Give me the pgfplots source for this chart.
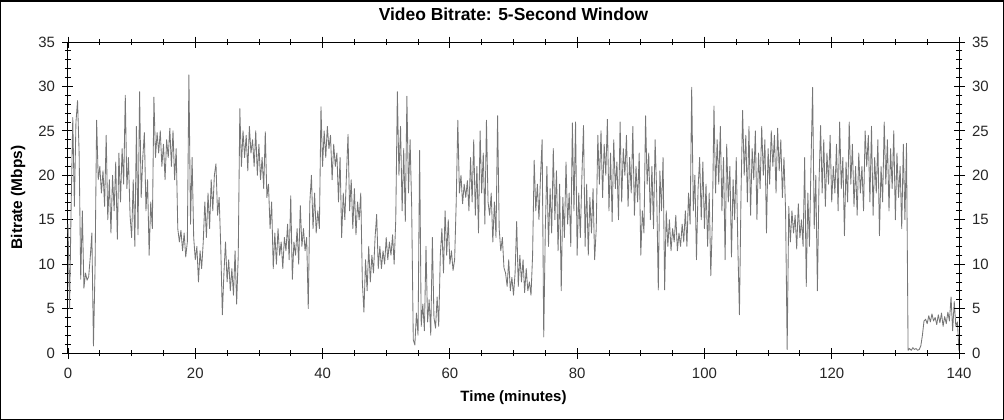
\documentclass[border=0pt]{standalone}
\usepackage{pgfplots}
\usepackage{pgfplotstable}
\pgfplotsset{compat=1.18}
\usepackage{fontspec}
\setmainfont{Liberation Sans}
\definecolor{linegray}{RGB}{118,118,118}
\pgfplotstableread[row sep=\\]{
t v\\
0 14.5\\ 0.25 5.0\\ 0.5 16.8\\ 0.75 26.5\\ 1 16.5\\ 1.25 26.0\\ 1.5 28.4\\ 1.75 22.5\\
2 8.3\\ 2.25 16.0\\ 2.5 7.3\\ 2.75 9.0\\ 3 8.2\\ 3.25 8.6\\ 3.5 10.8\\ 3.75 13.5\\
4 0.8\\ 4.25 9.5\\ 4.5 26.2\\ 4.75 19.5\\ 5 21.0\\ 5.25 18.0\\ 5.5 20.5\\ 5.75 16.5\\
6 24.5\\ 6.25 15.0\\ 6.5 19.5\\ 6.75 13.5\\ 7 20.0\\ 7.25 16.0\\ 7.5 21.5\\ 7.75 12.8\\
8 22.5\\ 8.25 17.0\\ 8.5 23.0\\ 8.75 19.0\\ 9 29.0\\ 9.25 18.5\\ 9.5 22.0\\ 9.75 15.5\\
10 13.0\\ 10.25 19.5\\ 10.5 12.0\\ 10.75 25.5\\ 11 13.3\\ 11.25 29.4\\ 11.5 17.5\\ 11.75 22.0\\
12 24.8\\ 12.25 16.0\\ 12.5 19.5\\ 12.75 11.0\\ 13 17.0\\ 13.25 14.0\\ 13.5 28.8\\ 13.75 22.0\\
14 24.8\\ 14.25 22.5\\ 14.5 25.0\\ 14.75 21.0\\ 15 23.5\\ 15.25 19.5\\ 15.5 24.0\\ 15.75 22.0\\
16 25.3\\ 16.25 21.0\\ 16.5 25.0\\ 16.75 19.5\\ 17 23.0\\ 17.25 14.0\\ 17.5 12.5\\ 17.75 13.8\\
18 11.5\\ 18.25 13.5\\ 18.5 10.8\\ 18.75 12.5\\ 19 31.3\\ 19.25 14.5\\ 19.5 22.0\\ 19.75 13.0\\
20 10.5\\ 20.25 12.0\\ 20.5 8.0\\ 20.75 11.5\\ 21 9.5\\ 21.25 12.5\\ 21.5 17.0\\ 21.75 13.0\\
22 18.0\\ 22.25 14.0\\ 22.5 19.5\\ 22.75 16.0\\ 23 20.0\\ 23.25 21.3\\ 23.5 15.5\\ 23.75 17.5\\
24 12.0\\ 24.25 4.3\\ 24.5 9.0\\ 24.75 12.5\\ 25 8.0\\ 25.25 10.5\\ 25.5 7.0\\ 25.75 9.5\\
26 6.5\\ 26.25 11.5\\ 26.5 5.5\\ 26.75 11.0\\ 27 27.5\\ 27.25 21.0\\ 27.5 25.0\\ 27.75 22.0\\
28 24.5\\ 28.25 20.5\\ 28.5 25.5\\ 28.75 22.5\\ 29 24.0\\ 29.25 21.0\\ 29.5 25.0\\ 29.75 20.0\\
30 23.5\\ 30.25 19.5\\ 30.5 22.0\\ 30.75 18.5\\ 31 24.9\\ 31.25 17.5\\ 31.5 19.0\\ 31.75 14.0\\
32 17.0\\ 32.25 9.5\\ 32.5 13.5\\ 32.75 10.0\\ 33 14.0\\ 33.25 11.0\\ 33.5 12.5\\ 33.75 9.5\\
34 13.0\\ 34.25 11.5\\ 34.5 14.5\\ 34.75 10.5\\ 35 17.7\\ 35.25 8.3\\ 35.5 12.5\\ 35.75 11.0\\
36 14.0\\ 36.25 10.0\\ 36.5 16.6\\ 36.75 12.0\\ 37 14.0\\ 37.25 11.5\\ 37.5 13.0\\ 37.75 5.0\\
38 17.0\\ 38.25 20.0\\ 38.5 14.0\\ 38.75 18.0\\ 39 13.5\\ 39.25 16.0\\ 39.5 14.0\\ 39.75 27.7\\
40 21.0\\ 40.25 25.0\\ 40.5 22.0\\ 40.75 25.5\\ 41 23.0\\ 41.25 24.5\\ 41.5 19.5\\ 41.75 23.5\\
42 21.0\\ 42.25 22.5\\ 42.5 17.0\\ 42.75 22.0\\ 43 13.0\\ 43.25 18.0\\ 43.5 15.0\\ 43.75 20.0\\
44 24.6\\ 44.25 16.0\\ 44.5 19.5\\ 44.75 14.0\\ 45 18.5\\ 45.25 13.3\\ 45.5 17.0\\ 45.75 15.0\\
46 18.0\\ 46.25 8.0\\ 46.5 4.6\\ 46.75 10.5\\ 47 7.0\\ 47.25 12.0\\ 47.5 8.0\\ 47.75 11.0\\
48 9.0\\ 48.25 13.0\\ 48.5 15.6\\ 48.75 9.5\\ 49 12.0\\ 49.25 9.5\\ 49.5 11.5\\ 49.75 10.0\\
50 13.0\\ 50.25 10.5\\ 50.5 12.5\\ 50.75 11.0\\ 51 13.3\\ 51.25 10.0\\ 51.5 15.0\\ 51.75 29.4\\
52 20.0\\ 52.25 25.5\\ 52.5 16.0\\ 52.75 23.0\\ 53 14.8\\ 53.25 28.9\\ 53.5 18.0\\ 53.75 24.0\\
54 16.5\\ 54.25 1.5\\ 54.5 0.9\\ 54.75 4.5\\ 55 2.0\\ 55.25 22.8\\ 55.5 3.0\\ 55.75 5.5\\
56 2.5\\ 56.25 12.0\\ 56.5 3.5\\ 56.75 6.0\\ 57 2.0\\ 57.25 13.0\\ 57.5 4.0\\ 57.75 2.8\\
58 6.3\\ 58.25 3.0\\ 58.5 11.0\\ 58.75 14.0\\ 59 9.0\\ 59.25 16.0\\ 59.5 11.0\\ 59.75 15.0\\
60 10.0\\ 60.25 11.5\\ 60.5 9.3\\ 60.75 10.5\\ 61 17.0\\ 61.25 26.2\\ 61.5 18.0\\ 61.75 20.0\\
62 16.8\\ 62.25 19.0\\ 62.5 17.5\\ 62.75 19.4\\ 63 16.0\\ 63.25 22.0\\ 63.5 17.0\\ 63.75 24.0\\
64 15.5\\ 64.25 21.0\\ 64.5 13.5\\ 64.75 25.0\\ 65 18.0\\ 65.25 22.5\\ 65.5 14.5\\ 65.75 26.2\\
66 17.0\\ 66.25 15.5\\ 66.5 18.0\\ 66.75 12.5\\ 67 17.0\\ 67.25 13.0\\ 67.5 26.7\\ 67.75 14.0\\
68 11.5\\ 68.25 13.0\\ 68.5 9.6\\ 68.75 9.0\\ 69 7.5\\ 69.25 10.5\\ 69.5 7.0\\ 69.75 8.5\\
70 6.5\\ 70.25 9.0\\ 70.5 14.8\\ 70.75 7.5\\ 71 11.0\\ 71.25 8.0\\ 71.5 10.5\\ 71.75 6.8\\
72 9.5\\ 72.25 7.0\\ 72.5 8.0\\ 72.75 6.5\\ 73 11.0\\ 73.25 21.7\\ 73.5 16.0\\ 73.75 19.0\\
74 15.0\\ 74.25 20.0\\ 74.5 24.0\\ 74.75 1.8\\ 75 14.0\\ 75.25 21.0\\ 75.5 12.0\\ 75.75 18.5\\
76 13.5\\ 76.25 23.0\\ 76.5 15.0\\ 76.75 20.5\\ 77 11.5\\ 77.25 19.0\\ 77.5 7.0\\ 77.75 17.5\\
78 13.0\\ 78.25 21.5\\ 78.5 14.5\\ 78.75 18.0\\ 79 12.0\\ 79.25 25.9\\ 79.5 16.0\\ 79.75 26.0\\
80 11.0\\ 80.25 18.0\\ 80.5 13.0\\ 80.75 20.0\\ 81 25.6\\ 81.25 12.0\\ 81.5 19.0\\ 81.75 11.0\\
82 17.5\\ 82.25 13.5\\ 82.5 18.5\\ 82.75 10.5\\ 83 14.0\\ 83.25 24.5\\ 83.5 19.0\\ 83.75 25.0\\
84 17.5\\ 84.25 23.5\\ 84.5 20.0\\ 84.75 26.3\\ 85 16.0\\ 85.25 22.5\\ 85.5 14.8\\ 85.75 24.0\\
86 18.5\\ 86.25 21.5\\ 86.5 15.0\\ 86.75 26.0\\ 87 17.0\\ 87.25 23.0\\ 87.5 20.0\\ 87.75 24.5\\
88 16.5\\ 88.25 22.0\\ 88.5 18.0\\ 88.75 25.5\\ 89 15.5\\ 89.25 21.0\\ 89.5 17.0\\ 89.75 22.5\\
90 11.0\\ 90.25 16.0\\ 90.5 13.5\\ 90.75 26.7\\ 91 19.0\\ 91.25 22.5\\ 91.5 15.0\\ 91.75 21.0\\
92 14.0\\ 92.25 24.0\\ 92.5 18.0\\ 92.75 7.1\\ 93 20.5\\ 93.25 16.0\\ 93.5 22.0\\ 93.75 7.1\\
94 16.0\\ 94.25 12.0\\ 94.5 15.0\\ 94.75 11.5\\ 95 14.0\\ 95.25 12.5\\ 95.5 15.5\\ 95.75 11.5\\
96 13.5\\ 96.25 12.0\\ 96.5 14.5\\ 96.75 12.5\\ 97 16.0\\ 97.25 12.0\\ 97.5 18.0\\ 97.75 14.5\\
98 29.9\\ 98.25 16.0\\ 98.5 20.0\\ 98.75 10.5\\ 99 18.5\\ 99.25 22.0\\ 99.5 15.0\\ 99.75 21.5\\
100 14.0\\ 100.25 19.0\\ 100.5 12.0\\ 100.75 18.0\\ 101 8.7\\ 101.25 15.0\\ 101.5 27.8\\ 101.75 18.0\\
102 24.0\\ 102.25 19.0\\ 102.5 25.5\\ 102.75 16.0\\ 103 22.0\\ 103.25 10.5\\ 103.5 23.5\\ 103.75 17.0\\
104 21.0\\ 104.25 10.8\\ 104.5 19.5\\ 104.75 15.0\\ 105 22.0\\ 105.25 12.0\\ 105.5 4.3\\ 105.75 18.0\\
106 27.3\\ 106.25 20.0\\ 106.5 24.5\\ 106.75 17.0\\ 107 25.5\\ 107.25 15.5\\ 107.5 23.0\\ 107.75 19.5\\
108 25.0\\ 108.25 15.0\\ 108.5 22.5\\ 108.75 18.5\\ 109 25.5\\ 109.25 20.0\\ 109.5 24.0\\ 109.75 13.5\\
110 23.0\\ 110.25 19.0\\ 110.5 25.0\\ 110.75 21.0\\ 111 24.5\\ 111.25 18.0\\ 111.5 25.3\\ 111.75 20.5\\
112 24.0\\ 112.25 17.5\\ 112.5 22.0\\ 112.75 16.0\\ 113 0.4\\ 113.25 16.5\\ 113.5 12.5\\ 113.75 16.0\\
114 13.5\\ 114.25 15.5\\ 114.5 11.7\\ 114.75 16.8\\ 115 13.0\\ 115.25 15.0\\ 115.5 12.0\\ 115.75 22.0\\
116 7.5\\ 116.25 18.0\\ 116.5 12.0\\ 116.75 21.5\\ 117 29.9\\ 117.25 14.0\\ 117.5 20.0\\ 117.75 7.0\\
118 19.0\\ 118.25 25.6\\ 118.5 18.0\\ 118.75 24.0\\ 119 16.5\\ 119.25 22.5\\ 119.5 19.0\\ 119.75 24.5\\
120 17.0\\ 120.25 21.0\\ 120.5 18.0\\ 120.75 23.5\\ 121 16.0\\ 121.25 26.0\\ 121.5 18.5\\ 121.75 22.0\\
122 13.2\\ 122.25 21.5\\ 122.5 17.0\\ 122.75 26.0\\ 123 19.0\\ 123.25 23.5\\ 123.5 16.5\\ 123.75 21.0\\
124 15.5\\ 124.25 22.5\\ 124.5 18.0\\ 124.75 21.0\\ 125 16.0\\ 125.25 25.0\\ 125.5 21.0\\ 125.75 24.5\\
126 17.0\\ 126.25 25.5\\ 126.5 15.5\\ 126.75 22.0\\ 127 18.0\\ 127.25 24.0\\ 127.5 13.2\\ 127.75 21.0\\
128 17.0\\ 128.25 26.0\\ 128.5 19.0\\ 128.75 24.0\\ 129 16.0\\ 129.25 23.0\\ 129.5 18.5\\ 129.75 25.0\\
130 15.0\\ 130.25 22.5\\ 130.5 17.5\\ 130.75 21.0\\ 131 14.0\\ 131.25 23.5\\ 131.5 15.0\\ 131.75 23.6\\
132 0.3\\ 132.25 0.5\\ 132.5 0.3\\ 132.75 0.6\\ 133 0.4\\ 133.25 0.5\\ 133.5 0.3\\ 133.75 0.4\\
134 0.8\\ 134.25 2.0\\ 134.5 3.6\\ 134.75 3.8\\ 135 3.3\\ 135.25 4.2\\ 135.5 3.5\\ 135.75 4.4\\
136 3.6\\ 136.25 4.0\\ 136.5 3.2\\ 136.75 4.3\\ 137 3.4\\ 137.25 4.5\\ 137.5 3.0\\ 137.75 4.1\\
138 3.3\\ 138.25 4.6\\ 138.5 3.6\\ 138.75 6.3\\ 139 2.5\\ 139.25 5.8\\ 139.5 3.0\\ 139.75 3.5\\
140 0.2\\
}\bitrate
\begin{document}
\begin{tikzpicture}
\pgfplotsset{
  common/.style={
    scale only axis, width=891bp, height=311bp,
    xmin=0, xmax=140, ymin=0, ymax=35,
    xtick={0,20,...,140}, ytick={0,5,...,35},
    minor x tick num=3, minor y tick num=4,
    tick align=center,
    major tick length=11bp, minor tick length=6bp,
    every tick/.style={black, line width=0.8bp},
    axis line style={line width=1bp},
    /pgf/number format/assume math mode=true,
    ticklabel style={font=\fontsize{15}{17}\selectfont, text=black!85},
  }
}
\begin{axis}[common,
  yticklabel pos=left,
  yticklabel style={xshift=-4bp},
  xticklabel style={yshift=-6bp},
  clip=false,
  title={Video Bitrate: 5-Second Window},
  title style={font=\bfseries\fontsize{17.5}{20}\selectfont, at={(axis description cs:0.5,1.0707)}, anchor=center},
  xlabel={Time (minutes)},
  xlabel style={font=\bfseries\fontsize{15}{18}\selectfont, at={(axis description cs:0.5,-0.1447)}, anchor=center},
  ylabel={Bitrate (Mbps)},
  ylabel style={font=\bfseries\fontsize{15.5}{18}\selectfont, at={(axis description cs:-0.0561,0.5)}, anchor=center},
]
\addplot[linegray, line width=0.85bp, line join=round] table[x=t, y=v] {\bitrate};
\draw[line width=1.5bp] ([xshift=-67.25bp,yshift=-66.25bp]rel axis cs:0,0) rectangle ([xshift=44.25bp,yshift=41.25bp]rel axis cs:1,1);
\end{axis}
\begin{axis}[common,
  hide x axis, axis y line*=right, yticklabel pos=right,
  yticklabel style={xshift=4bp},
]
\end{axis}
\end{tikzpicture}
\end{document}
